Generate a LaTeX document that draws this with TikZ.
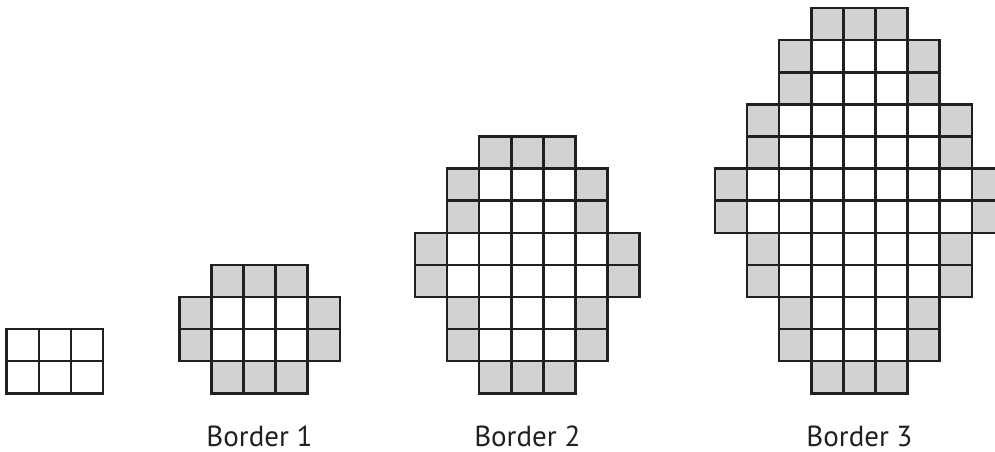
\documentclass[tikz,border=0pt]{standalone}
\usepackage{fontspec}
\setmainfont{PT Sans}
\definecolor{cellgray}{RGB}{209,210,211}
\definecolor{linec}{RGB}{35,31,32}
\def\csz{32.1}
\def\ybase{57.7}
\tikzset{
  gridline/.style={draw=linec, line width=2.5pt, line join=miter},
  grayfill/.style={fill=cellgray},
  label/.style={anchor=base, font=\fontsize{29}{32}\selectfont, text=linec, inner sep=0pt, text depth=0pt}
}
% row with gray end cells, white inside
\newcommand\bordrow[4]{%
  \fill[grayfill] ({#1+#3*\csz},{\ybase+#2*\csz}) rectangle ++(\csz,\csz);
  \fill[grayfill] ({#1+#4*\csz},{\ybase+#2*\csz}) rectangle ++(\csz,\csz);
  \foreach \c in {#3,...,#4} \draw[gridline] ({#1+\c*\csz},{\ybase+#2*\csz}) rectangle ++(\csz,\csz);
}
% row fully gray
\newcommand\grayrow[4]{%
  \fill[grayfill] ({#1+#3*\csz},{\ybase+#2*\csz}) rectangle ({#1+(#4+1)*\csz},{\ybase+(#2+1)*\csz});
  \foreach \c in {#3,...,#4} \draw[gridline] ({#1+\c*\csz},{\ybase+#2*\csz}) rectangle ++(\csz,\csz);
}
% row fully white
\newcommand\whiterow[4]{%
  \foreach \c in {#3,...,#4} \draw[gridline] ({#1+\c*\csz},{\ybase+#2*\csz}) rectangle ++(\csz,\csz);
}
\begin{document}
\begin{tikzpicture}[x=1pt,y=1pt]
\useasboundingbox (0,0) rectangle (995,451);
\clip (0,0) rectangle (995,451);
% base
\whiterow{6.7}{0}{0}{2}
\whiterow{6.7}{1}{0}{2}
% border 1
\grayrow{179.3}{0}{1}{3}
\bordrow{179.3}{1}{0}{4}
\bordrow{179.3}{2}{0}{4}
\grayrow{179.3}{3}{1}{3}
% border 2
\grayrow{415}{0}{2}{4}
\bordrow{415}{1}{1}{5}
\bordrow{415}{2}{1}{5}
\bordrow{415}{3}{0}{6}
\bordrow{415}{4}{0}{6}
\bordrow{415}{5}{1}{5}
\bordrow{415}{6}{1}{5}
\grayrow{415}{7}{2}{4}
% border 3
\grayrow{715}{0}{3}{5}
\bordrow{715}{1}{2}{6}
\bordrow{715}{2}{2}{6}
\bordrow{715}{3}{1}{7}
\bordrow{715}{4}{1}{7}
\bordrow{715}{5}{0}{8}
\bordrow{715}{6}{0}{8}
\bordrow{715}{7}{1}{7}
\bordrow{715}{8}{1}{7}
\bordrow{715}{9}{2}{6}
\bordrow{715}{10}{2}{6}
\grayrow{715}{11}{3}{5}
% labels
\node[label] (l1) at (259.5,5) {Border 1};
\node[label] (l2) at (527.3,5) {Border 2};
\node[label] (l3) at (859.5,5) {Border 3};
\end{tikzpicture}
\end{document}
